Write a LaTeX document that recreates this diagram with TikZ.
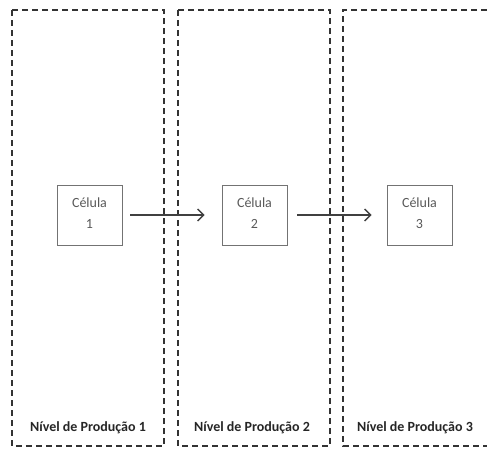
\documentclass[tikz,border=0pt]{standalone}
\usepackage{fontspec}
\setmainfont{Carlito}
\usetikzlibrary{arrows.meta}
\newcommand{\celltext}[1]{\raisebox{4pt}{\begin{tabular}{@{}c@{}}Célula\\[5pt]#1\end{tabular}}}
\begin{document}
\begin{tikzpicture}[x=1pt,y=-1pt,
  level/.style={draw=black!80, line width=1.4pt, dash pattern=on 6pt off 4pt},
  cell/.style={draw=black!55, line width=0.9pt, minimum width=65pt, minimum height=60pt,
    text=black!65, font=\fontsize{14}{16}\selectfont, inner sep=0pt},
  flow/.style={draw=black!75, line width=1.5pt, -{Straight Barb[length=6pt,width=12pt,line width=1.3pt]}},
  levellabel/.style={text=black!85, font=\bfseries\fontsize{14}{16}\selectfont, inner sep=0pt}]
  \useasboundingbox (0,0) rectangle (487,448);
  \clip (0,0) rectangle (487,448);
  % production levels
  \draw[level] (12,10) rectangle (164,446);
  \draw[level] (178,10) rectangle (330,446);
  \draw[level] (497,10) -- (343,10) -- (343,446) -- (497,446);
  % cells
  \node[cell] (c1) at (89.5,215) {\celltext{1}};
  \node[cell] (c2) at (254.5,215) {\celltext{2}};
  \node[cell] (c3) at (419.5,215) {\celltext{3}};
  % flows between cells
  \draw[flow, shorten <=8pt, shorten >=17pt] (c1.east) -- (c2.west);
  \draw[flow, shorten <=10pt, shorten >=15pt] (c2.east) -- (c3.west);
  % level labels
  \node[levellabel] (l1) at (88,428) {Nível de Produção 1};
  \node[levellabel] (l2) at (252,428) {Nível de Produção 2};
  \node[levellabel] (l3) at (415,428) {Nível de Produção 3};
\end{tikzpicture}
\end{document}
